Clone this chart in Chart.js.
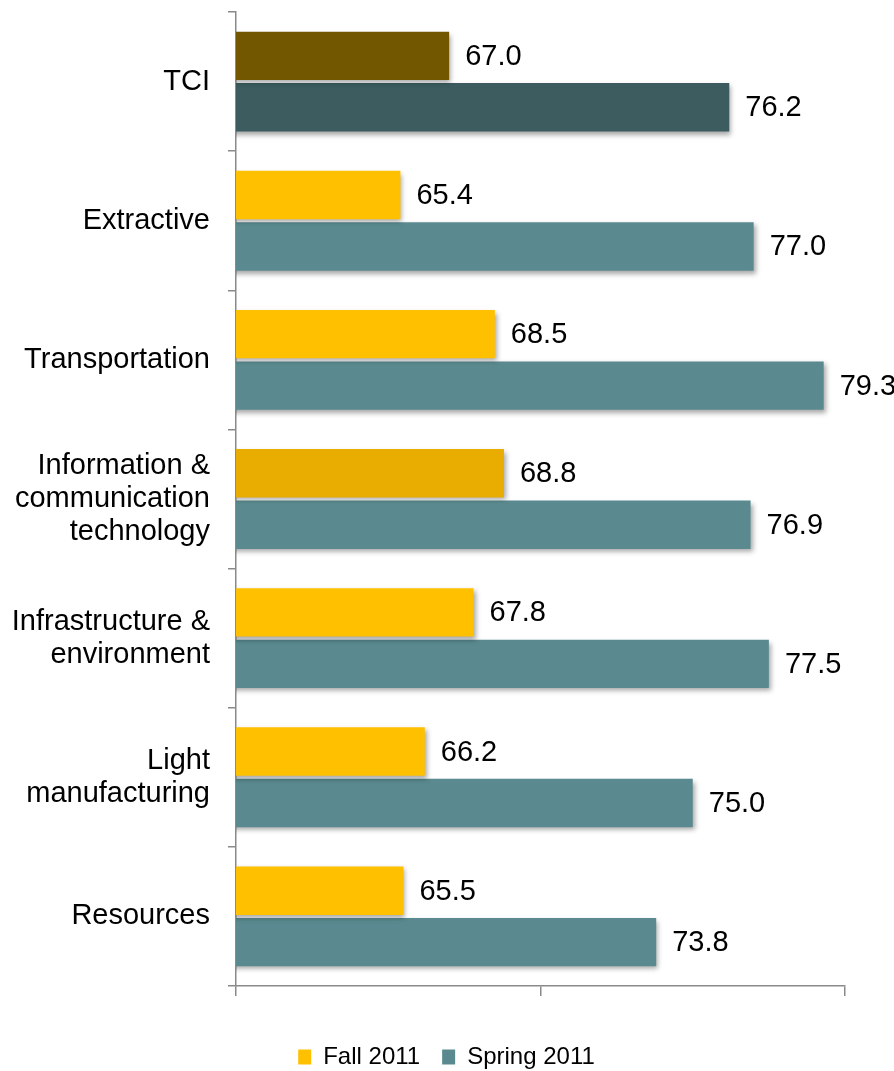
<!DOCTYPE html>
<html>
<head>
<meta charset="utf-8">
<script src="https://cdn.jsdelivr.net/npm/chart.js@4"></script>
<style>
  html, body { margin: 0; padding: 0; background: #fff; }
  #wrap { width: 894px; height: 1071px; }
</style>
</head>
<body>
<div id="wrap"><canvas id="chart"></canvas></div>
<script>
// категории и значения
const categories = [
    'TCI',
    'Extractive',
    'Transportation',
    ['Information &', 'communication', 'technology'],
    ['Infrastructure &', 'environment'],
    ['Light', 'manufacturing'],
    'Resources'
];
const fall2011 = [67.0, 65.4, 68.5, 68.8, 67.8, 66.2, 65.5];
const spring2011 = [76.2, 77.0, 79.3, 76.9, 77.5, 75.0, 73.8];
const seriesNames = ['Fall 2011', 'Spring 2011'];
const xTicks = [60, 70, 80];

// цвета
const fallColors = ['#735600', '#FFC000', '#FFC000', '#E8AD00', '#FFC000', '#FFC000', '#FFC000'];
const springColors = ['#3D5C60', '#5A8A8F', '#5A8A8F', '#5A8A8F', '#5A8A8F', '#5A8A8F', '#5A8A8F'];
const legendColors = ['#FFC000', '#5A8A8F'];

const FONT = '"Liberation Sans", Arial, sans-serif';

// тень под столбцами
const shadowPlugin = {
    id: 'barShadow',
    beforeDatasetsDraw(chart) {
        const ctx = chart.ctx;
        ctx.save();
        ctx.shadowColor = 'rgba(0,0,0,0.35)';
        ctx.shadowBlur = 5;
        ctx.shadowOffsetX = 2;
        ctx.shadowOffsetY = 3;
    },
    afterDatasetsDraw(chart) {
        chart.ctx.restore();
    }
};

// подписи значений справа от столбцов
const valueLabels = {
    id: 'valueLabels',
    afterDatasetsDraw(chart) {
        const ctx = chart.ctx;
        ctx.save();
        ctx.font = '29px ' + FONT;
        ctx.fillStyle = '#000';
        ctx.textAlign = 'left';
        ctx.textBaseline = 'middle';
        chart.data.datasets.forEach((ds, i) => {
            chart.getDatasetMeta(i).data.forEach((bar, j) => {
                ctx.fillText(ds.data[j].toFixed(1), bar.x + 16, bar.y + 1);
            });
        });
        ctx.restore();
    }
};

// легенду чуть правее, как в оригинале
const legendShift = {
    id: 'legendShift',
    beforeDraw(chart) {
        chart.legend.left += 24;
        chart.legend.right += 24;
    }
};

const ctx = document.getElementById('chart').getContext('2d');
new Chart(ctx, {
    type: 'bar',
    data: {
        labels: categories,
        datasets: [
            { label: seriesNames[0], data: fall2011, backgroundColor: fallColors },
            { label: seriesNames[1], data: spring2011, backgroundColor: springColors }
        ]
    },
    options: {
        indexAxis: 'y',
        responsive: true,
        maintainAspectRatio: false,
        animation: false,
        categoryPercentage: 0.74,
        barPercentage: 0.94,
        layout: { padding: { top: 12, left: 0, right: 49, bottom: -8 } },
        scales: {
            x: {
                min: 60,
                max: 80,
                afterBuildTicks: axis => { axis.ticks = xTicks.map(v => ({ value: v })); },
                ticks: { display: false },
                grid: { drawOnChartArea: false, drawTicks: true, tickLength: 10, color: '#8a8a8a', lineWidth: 1.5 },
                border: { color: '#8a8a8a', width: 1.5 },
                afterFit: axis => { axis.height = 37; }
            },
            y: {
                ticks: {
                    color: '#000',
                    font: { family: FONT, size: 29, lineHeight: 1.14 },
                    padding: 18
                },
                grid: { drawOnChartArea: false, drawTicks: true, tickLength: 8, color: '#8a8a8a', lineWidth: 1.5, offset: true },
                border: { color: '#8a8a8a', width: 1.5 },
                afterFit: axis => {
                    axis.width = 236;
                    axis.paddingTop = 0;
                    axis.paddingBottom = 0;
                }
            }
        },
        plugins: {
            legend: {
                position: 'bottom',
                labels: {
                    color: '#000',
                    font: { family: FONT, size: 24 },
                    boxWidth: 13,
                    boxHeight: 15,
                    padding: 22,
                    generateLabels: chart => chart.data.datasets.map((ds, i) => ({
                        text: ds.label,
                        fillStyle: legendColors[i],
                        strokeStyle: legendColors[i],
                        lineWidth: 0,
                        datasetIndex: i
                    }))
                }
            },
            tooltip: { enabled: false }
        }
    },
    plugins: [shadowPlugin, valueLabels, legendShift]
});
</script>
</body>
</html>
